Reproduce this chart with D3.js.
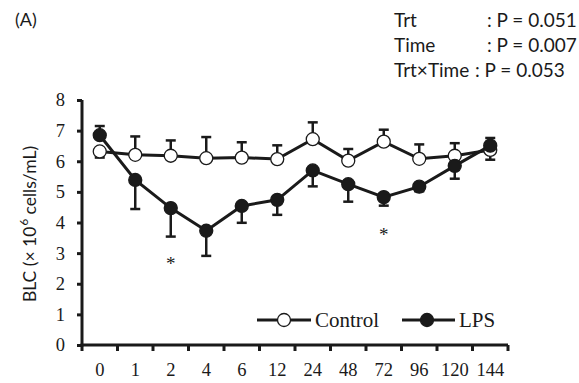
<!DOCTYPE html>
<html><head><meta charset="utf-8">
<script src="https://cdn.jsdelivr.net/npm/d3@7"></script>
<style>body{margin:0;background:#fff}svg{display:block}</style>
</head><body>
<svg id="chart" width="579" height="383"></svg>
<script>
const categories = ["0","1","2","4","6","12","24","48","72","96","120","144"];
const controlValues = [6.32,6.21,6.18,6.10,6.12,6.07,6.72,6.02,6.64,6.08,6.18,6.37];
const controlErrors = [0.20,0.60,0.50,0.69,0.50,0.45,0.55,0.38,0.39,0.47,0.41,0.32];
const controlDir    = [-1,1,1,1,1,1,1,1,1,1,1,-1];
const lpsValues = [6.85,5.39,4.47,3.73,4.54,4.74,5.70,5.25,4.83,5.17,5.85,6.51];
const lpsErrors = [0.30,0.95,0.93,0.82,0.55,0.49,0.52,0.57,0.28,0.15,0.42,0.25];
const lpsDir    = [1,-1,-1,-1,-1,-1,-1,-1,-1,-1,-1,1];
const yTicks = [0,1,2,3,4,5,6,7,8];
const sigMarks = [{cat:"2", y:2.72},{cat:"72", y:3.65}];
const statLabels = ["Trt","Time","Trt×Time"];
const statValues = [": P = 0.051",": P = 0.007",": P = 0.053"];

(function(){
const svg = d3.select("#chart");
const pLeft = 82, pRight = 508, pTop = 100, pBottom = 345;
const x = d3.scaleBand().domain(categories).range([pLeft, pRight]).padding(0);
const y = d3.scaleLinear().domain([0, 8]).range([pBottom, pTop]);
const cx = c => x(c) + x.bandwidth()/2;
const ink = "#1a1a1a";

// y axis
const yAxis = svg.append("g").attr("transform", `translate(${pLeft},0)`)
  .call(d3.axisLeft(y).tickValues(yTicks).tickSize(5).tickPadding(12).tickFormat(d3.format("d")));
yAxis.select(".domain").attr("stroke",ink).attr("stroke-width",3).attr("d",`M0,${pBottom+1.5}V${pTop}`);
yAxis.selectAll(".tick line").attr("stroke",ink).attr("stroke-width",3);
yAxis.selectAll(".tick text").attr("font-family","Liberation Serif").attr("font-size",18.5).attr("fill",ink);

// x axis labels
const xAxis = svg.append("g").attr("transform", `translate(0,${pBottom})`)
  .call(d3.axisBottom(x).tickSize(0).tickPadding(18));
xAxis.select(".domain").remove();
xAxis.selectAll(".tick text").attr("font-family","Liberation Serif").attr("font-size",18.5).attr("fill",ink);
svg.append("line").attr("x1",pLeft-1.5).attr("x2",pRight).attr("y1",pBottom).attr("y2",pBottom)
  .attr("stroke",ink).attr("stroke-width",3);
const edges = categories.map(c => x(c)).concat([x(categories[categories.length-1]) + x.bandwidth()]);
svg.selectAll(".xedge").data(edges).enter().append("line")
  .attr("x1",d=>d).attr("x2",d=>d).attr("y1",pBottom).attr("y2",pBottom+6)
  .attr("stroke",ink).attr("stroke-width",3);

// y label
const yl = svg.append("text").attr("transform","translate(36,224) rotate(-90)")
  .attr("text-anchor","middle").attr("font-family","Lato").attr("font-size",17.5).attr("fill",ink);
yl.append("tspan").text("BLC (× 10");
yl.append("tspan").attr("dy",-8).attr("dx",1).attr("font-size",11.5).text("6");
yl.append("tspan").attr("dy",8).text(" cells/mL)");

function drawSeries(vals, errs, dirs, fill) {
  const g = svg.append("g");
  const pts = categories.map((c,i)=>({c, v:vals[i], e:errs[i], d:dirs[i]}));
  g.selectAll(".eb").data(pts).enter().append("line")
    .attr("x1",p=>cx(p.c)).attr("x2",p=>cx(p.c))
    .attr("y1",p=>y(p.v)).attr("y2",p=>y(p.v+p.d*p.e))
    .attr("stroke",ink).attr("stroke-width",2.5);
  g.selectAll(".cap").data(pts).enter().append("line")
    .attr("x1",p=>cx(p.c)-5).attr("x2",p=>cx(p.c)+5)
    .attr("y1",p=>y(p.v+p.d*p.e)).attr("y2",p=>y(p.v+p.d*p.e))
    .attr("stroke",ink).attr("stroke-width",2.5);
  g.append("path").datum(pts)
    .attr("d", d3.line().x(p=>cx(p.c)).y(p=>y(p.v)))
    .attr("fill","none").attr("stroke",ink).attr("stroke-width",3);
  g.selectAll(".pt").data(pts).enter().append("circle")
    .attr("cx",p=>cx(p.c)).attr("cy",p=>y(p.v)).attr("r",6.5)
    .attr("fill",fill).attr("stroke",ink).attr("stroke-width",1.3);
}
drawSeries(controlValues, controlErrors, controlDir, "#fff");
drawSeries(lpsValues, lpsErrors, lpsDir, ink);

// significance
svg.selectAll(".sig").data(sigMarks).enter().append("text")
  .attr("x",d=>cx(d.cat)).attr("y",d=>y(d.y)+8).attr("text-anchor","middle")
  .attr("font-family","Liberation Serif").attr("font-size",19).attr("fill",ink).text("*");

// legend
const legY = 320;
function legendItem(x1, x2, cxp, fill, label, tx) {
  svg.append("line").attr("x1",x1).attr("x2",x2).attr("y1",legY).attr("y2",legY)
    .attr("stroke",ink).attr("stroke-width",3);
  svg.append("circle").attr("cx",cxp).attr("cy",legY).attr("r",6.5)
    .attr("fill",fill).attr("stroke",ink).attr("stroke-width",1.3);
  svg.append("text").attr("x",tx).attr("y",legY+7).attr("font-family","Liberation Serif")
    .attr("font-size",21).attr("fill",ink).text(label);
}
legendItem(257, 311, 284, "#fff", "Control", 315);
legendItem(402, 455, 427, ink, "LPS", 459);

// panel label and stats
svg.append("text").attr("x",15).attr("y",26).attr("font-family","Lato").attr("font-size",18)
  .attr("fill",ink).text("(A)");
const valueX = [487, 487, 475];
statLabels.forEach((s,i)=>{
  svg.append("text").attr("x",394).attr("y",27+i*25).attr("font-family","Lato").attr("font-size",19)
    .attr("fill",ink).text(s);
  svg.append("text").attr("x",valueX[i]).attr("y",27+i*25).attr("font-family","Lato").attr("font-size",19)
    .attr("fill",ink).text(statValues[i]);
});
})();
</script>
</body></html>
